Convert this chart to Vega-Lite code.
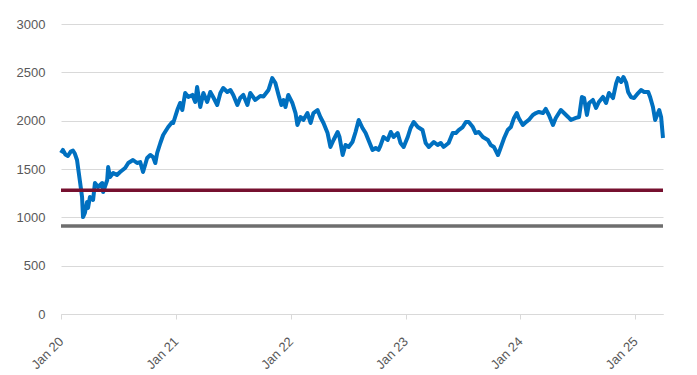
{
  "$schema": "https://vega.github.io/schema/vega-lite/v6.json",
  "width": 602,
  "height": 290,
  "autosize": {"type": "none"},
  "padding": {"left": 61, "top": 24, "right": 34, "bottom": 61},
  "background": "white",
  "config": {"view": {"stroke": null}, "font": "Liberation Sans"},
  "layer": [
    {
      "data": {
        "values": [
          {"date": "2020-01-01", "value": 1666},
          {"date": "2020-01-07", "value": 1697},
          {"date": "2020-01-15", "value": 1650},
          {"date": "2020-01-23", "value": 1635},
          {"date": "2020-02-01", "value": 1680},
          {"date": "2020-02-08", "value": 1690},
          {"date": "2020-02-14", "value": 1660},
          {"date": "2020-02-21", "value": 1593},
          {"date": "2020-02-24", "value": 1520},
          {"date": "2020-03-02", "value": 1355},
          {"date": "2020-03-08", "value": 1210},
          {"date": "2020-03-11", "value": 1003},
          {"date": "2020-03-17", "value": 1045},
          {"date": "2020-03-24", "value": 1159},
          {"date": "2020-03-27", "value": 1097},
          {"date": "2020-04-02", "value": 1210},
          {"date": "2020-04-12", "value": 1180},
          {"date": "2020-04-18", "value": 1355},
          {"date": "2020-04-28", "value": 1314},
          {"date": "2020-05-11", "value": 1355},
          {"date": "2020-05-14", "value": 1262},
          {"date": "2020-05-27", "value": 1386},
          {"date": "2020-05-30", "value": 1520},
          {"date": "2020-06-05", "value": 1417},
          {"date": "2020-06-15", "value": 1459},
          {"date": "2020-06-27", "value": 1438},
          {"date": "2020-07-07", "value": 1469},
          {"date": "2020-07-23", "value": 1510},
          {"date": "2020-08-02", "value": 1562},
          {"date": "2020-08-17", "value": 1593},
          {"date": "2020-08-30", "value": 1562},
          {"date": "2020-09-09", "value": 1572},
          {"date": "2020-09-18", "value": 1469},
          {"date": "2020-10-01", "value": 1614},
          {"date": "2020-10-11", "value": 1645},
          {"date": "2020-10-20", "value": 1624},
          {"date": "2020-10-27", "value": 1562},
          {"date": "2020-11-02", "value": 1666},
          {"date": "2020-11-12", "value": 1769},
          {"date": "2020-11-21", "value": 1852},
          {"date": "2020-12-07", "value": 1934},
          {"date": "2020-12-20", "value": 1986},
          {"date": "2020-12-23", "value": 1976},
          {"date": "2021-01-05", "value": 2110},
          {"date": "2021-01-14", "value": 2183},
          {"date": "2021-01-21", "value": 2110},
          {"date": "2021-01-30", "value": 2286},
          {"date": "2021-02-09", "value": 2245},
          {"date": "2021-02-22", "value": 2266},
          {"date": "2021-03-03", "value": 2193},
          {"date": "2021-03-09", "value": 2348},
          {"date": "2021-03-19", "value": 2141},
          {"date": "2021-03-29", "value": 2286},
          {"date": "2021-04-10", "value": 2193},
          {"date": "2021-04-20", "value": 2297},
          {"date": "2021-04-29", "value": 2245},
          {"date": "2021-05-12", "value": 2162},
          {"date": "2021-05-22", "value": 2286},
          {"date": "2021-05-31", "value": 2338},
          {"date": "2021-06-13", "value": 2297},
          {"date": "2021-06-23", "value": 2317},
          {"date": "2021-07-02", "value": 2266},
          {"date": "2021-07-15", "value": 2162},
          {"date": "2021-07-24", "value": 2234},
          {"date": "2021-08-03", "value": 2266},
          {"date": "2021-08-16", "value": 2162},
          {"date": "2021-08-25", "value": 2286},
          {"date": "2021-09-10", "value": 2214},
          {"date": "2021-09-26", "value": 2255},
          {"date": "2021-10-06", "value": 2250},
          {"date": "2021-10-22", "value": 2317},
          {"date": "2021-11-03", "value": 2441},
          {"date": "2021-11-13", "value": 2390},
          {"date": "2021-11-23", "value": 2266},
          {"date": "2021-12-02", "value": 2162},
          {"date": "2021-12-09", "value": 2214},
          {"date": "2021-12-15", "value": 2141},
          {"date": "2021-12-24", "value": 2266},
          {"date": "2022-01-06", "value": 2183},
          {"date": "2022-01-16", "value": 2079},
          {"date": "2022-01-22", "value": 1955},
          {"date": "2022-02-01", "value": 2038},
          {"date": "2022-02-10", "value": 2007},
          {"date": "2022-02-23", "value": 2079},
          {"date": "2022-03-05", "value": 1976},
          {"date": "2022-03-14", "value": 2079},
          {"date": "2022-03-27", "value": 2110},
          {"date": "2022-04-05", "value": 2038},
          {"date": "2022-04-15", "value": 1976},
          {"date": "2022-04-28", "value": 1872},
          {"date": "2022-05-07", "value": 1728},
          {"date": "2022-05-17", "value": 1800},
          {"date": "2022-05-30", "value": 1883},
          {"date": "2022-06-05", "value": 1831},
          {"date": "2022-06-15", "value": 1645},
          {"date": "2022-06-24", "value": 1748},
          {"date": "2022-07-04", "value": 1728},
          {"date": "2022-07-16", "value": 1779},
          {"date": "2022-07-26", "value": 1883},
          {"date": "2022-08-05", "value": 2007},
          {"date": "2022-08-17", "value": 1924},
          {"date": "2022-08-27", "value": 1872},
          {"date": "2022-09-05", "value": 1800},
          {"date": "2022-09-18", "value": 1697},
          {"date": "2022-09-28", "value": 1717},
          {"date": "2022-10-07", "value": 1697},
          {"date": "2022-10-13", "value": 1740},
          {"date": "2022-10-23", "value": 1831},
          {"date": "2022-11-05", "value": 1800},
          {"date": "2022-11-15", "value": 1883},
          {"date": "2022-11-24", "value": 1831},
          {"date": "2022-12-07", "value": 1872},
          {"date": "2022-12-16", "value": 1769},
          {"date": "2022-12-26", "value": 1728},
          {"date": "2023-01-08", "value": 1831},
          {"date": "2023-01-17", "value": 1924},
          {"date": "2023-01-27", "value": 1986},
          {"date": "2023-02-09", "value": 1934},
          {"date": "2023-02-24", "value": 1903},
          {"date": "2023-03-06", "value": 1769},
          {"date": "2023-03-16", "value": 1728},
          {"date": "2023-04-01", "value": 1779},
          {"date": "2023-04-13", "value": 1748},
          {"date": "2023-04-23", "value": 1769},
          {"date": "2023-05-02", "value": 1728},
          {"date": "2023-05-18", "value": 1769},
          {"date": "2023-05-31", "value": 1872},
          {"date": "2023-06-10", "value": 1872},
          {"date": "2023-06-19", "value": 1903},
          {"date": "2023-07-02", "value": 1934},
          {"date": "2023-07-12", "value": 1986},
          {"date": "2023-07-21", "value": 1986},
          {"date": "2023-08-03", "value": 1934},
          {"date": "2023-08-12", "value": 1872},
          {"date": "2023-08-22", "value": 1883},
          {"date": "2023-09-04", "value": 1831},
          {"date": "2023-09-20", "value": 1800},
          {"date": "2023-09-29", "value": 1748},
          {"date": "2023-10-09", "value": 1728},
          {"date": "2023-10-22", "value": 1645},
          {"date": "2023-10-28", "value": 1697},
          {"date": "2023-11-10", "value": 1815},
          {"date": "2023-11-22", "value": 1903},
          {"date": "2023-12-02", "value": 1934},
          {"date": "2023-12-12", "value": 2028},
          {"date": "2023-12-21", "value": 2079},
          {"date": "2023-12-27", "value": 2028},
          {"date": "2024-01-09", "value": 1955},
          {"date": "2024-01-19", "value": 1986},
          {"date": "2024-01-28", "value": 2007},
          {"date": "2024-02-10", "value": 2059},
          {"date": "2024-02-20", "value": 2079},
          {"date": "2024-02-29", "value": 2090},
          {"date": "2024-03-13", "value": 2079},
          {"date": "2024-03-22", "value": 2121},
          {"date": "2024-04-01", "value": 2059},
          {"date": "2024-04-14", "value": 1955},
          {"date": "2024-04-23", "value": 2028},
          {"date": "2024-05-09", "value": 2110},
          {"date": "2024-05-19", "value": 2079},
          {"date": "2024-06-01", "value": 2038},
          {"date": "2024-06-10", "value": 2007},
          {"date": "2024-06-26", "value": 2028},
          {"date": "2024-07-06", "value": 2038},
          {"date": "2024-07-15", "value": 2245},
          {"date": "2024-07-22", "value": 2234},
          {"date": "2024-07-31", "value": 2059},
          {"date": "2024-08-07", "value": 2183},
          {"date": "2024-08-19", "value": 2214},
          {"date": "2024-08-29", "value": 2131},
          {"date": "2024-09-07", "value": 2193},
          {"date": "2024-09-20", "value": 2245},
          {"date": "2024-09-30", "value": 2183},
          {"date": "2024-10-09", "value": 2286},
          {"date": "2024-10-22", "value": 2234},
          {"date": "2024-11-01", "value": 2385},
          {"date": "2024-11-07", "value": 2441},
          {"date": "2024-11-17", "value": 2400},
          {"date": "2024-11-24", "value": 2452},
          {"date": "2024-12-03", "value": 2390},
          {"date": "2024-12-09", "value": 2297},
          {"date": "2024-12-18", "value": 2245},
          {"date": "2024-12-28", "value": 2234},
          {"date": "2025-01-10", "value": 2286},
          {"date": "2025-01-19", "value": 2317},
          {"date": "2025-01-29", "value": 2297},
          {"date": "2025-02-11", "value": 2297},
          {"date": "2025-02-17", "value": 2245},
          {"date": "2025-02-26", "value": 2141},
          {"date": "2025-03-05", "value": 2007},
          {"date": "2025-03-14", "value": 2079},
          {"date": "2025-03-18", "value": 2110},
          {"date": "2025-03-24", "value": 2038},
          {"date": "2025-03-30", "value": 1821}
        ]
      },
      "mark": {"type": "line", "color": "#0070C0", "strokeWidth": 4, "strokeJoin": "round"},
      "encoding": {
        "x": {
          "field": "date",
          "type": "temporal",
          "scale": {"type": "utc", "domain": [1577836800000, 1743292800000]},
          "axis": {
            "title": null,
            "values": [1577836800000, 1609459200000, 1640995200000, 1672531200000, 1704067200000, 1735689600000],
            "format": "%b %y",
            "labelAngle": -45,
            "labelAlign": "right",
            "labelBaseline": "middle",
            "labelPadding": 20,
            "labelColor": "#595959",
            "labelFontSize": 13,
            "domainColor": "#D9D9D9",
            "tickColor": "#D9D9D9",
            "tickSize": 5,
            "grid": false
          }
        },
        "y": {
          "field": "value",
          "type": "quantitative",
          "scale": {"domain": [0, 3000]},
          "axis": {
            "title": null,
            "values": [0, 500, 1000, 1500, 2000, 2500, 3000],
            "format": "d",
            "domain": false,
            "ticks": false,
            "grid": true,
            "gridColor": "#D9D9D9",
            "labelColor": "#595959",
            "labelFontSize": 13,
            "labelPadding": 16
          }
        }
      }
    },
    {
      "data": {"values": [{"level": 1280, "name": "a"}, {"level": 910, "name": "b"}]},
      "mark": {"type": "rule", "strokeWidth": 3.5},
      "encoding": {
        "y": {"field": "level", "type": "quantitative"},
        "color": {"field": "name", "type": "nominal", "scale": {"domain": ["a", "b"], "range": ["#76102F", "#6E6E6E"]}, "legend": null}
      }
    }
  ]
}
